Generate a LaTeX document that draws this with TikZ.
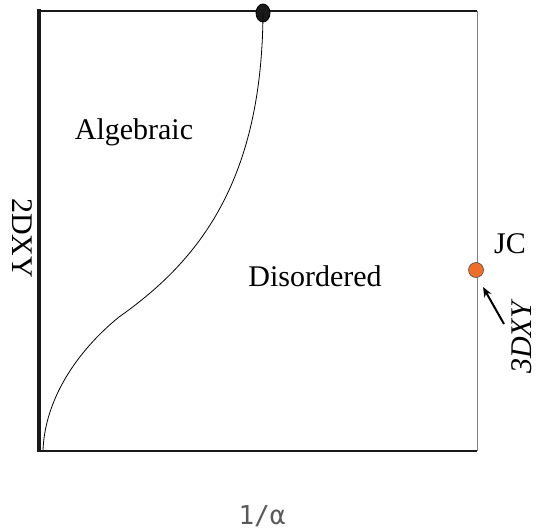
\documentclass[tikz,border=0pt]{standalone}
\usepackage{fontspec}
\setmainfont{Liberation Serif}
\newfontfamily\axisfont{DejaVu Sans Mono}
\usetikzlibrary{positioning, arrows.meta, shapes.geometric}

\definecolor{jcorange}{RGB}{238,110,40}

\begin{document}
\begin{tikzpicture}[x=0.5pt, y=-0.5pt, font=\fontsize{15}{18}\selectfont,
        phase/.style={inner sep=0pt},
        frameline/.style={line width=1.3pt, black!90}]
        \useasboundingbox (0,0) rectangle (539,529);
        % frame of the phase diagram
        \coordinate (tl) at (39,11);
        \coordinate (tr) at (477,11);
        \coordinate (bl) at (39,451);
        \coordinate (br) at (477,451);
        \draw[line width=0.5pt, black!50] (tr) -- (br);
        \draw[frameline] (tl) -- (tr);
        \draw[frameline] (bl) -- (br);
        \draw[line width=2pt, black!90] (39,9) -- (39,452);
        % boundary between the two phases
        \node[draw, ellipse, fill=black!90, minimum width=7pt, minimum height=9pt, inner sep=0pt] (top) at (263,13) {};
        \coordinate (bend) at (119,317);
        \coordinate (foot) at (43,450);
        \draw[line width=0.4pt] (top.center) .. controls (262,180) and (200,260) .. (bend)
                .. controls (76,352) and (45,400) .. (foot);
        % JC point
        \node[draw=black!70, circle, fill=jcorange, minimum size=7.5pt, inner sep=0pt, line width=0.3pt] (jc) at (476,270) {};
        \node[phase, anchor=base] (jclabel) at (510,253) {JC};
        \coordinate (tail) at (504,324);
        \coordinate (head) at (483,287);
        \draw[-{Stealth[length=5pt, width=4pt]}, line width=1pt] (tail) -- (head);
        \node[phase, rotate=90, font=\fontsize{15}{18}\selectfont\itshape] (threed) at (522,338) {3DXY};
        % labels
        \node[phase, anchor=base] (alg) at (134,140) {Algebraic};
        \node[phase, anchor=base] (dis) at (315,286) {Disordered};
        \node[phase, rotate=-90] (twod) at (22,238) {2DXY};
        \node[phase, font=\fontsize{13}{15}\axisfont, text=black!65] (xaxis) at (262,516) {1/α};
    \end{tikzpicture}
\end{document}
